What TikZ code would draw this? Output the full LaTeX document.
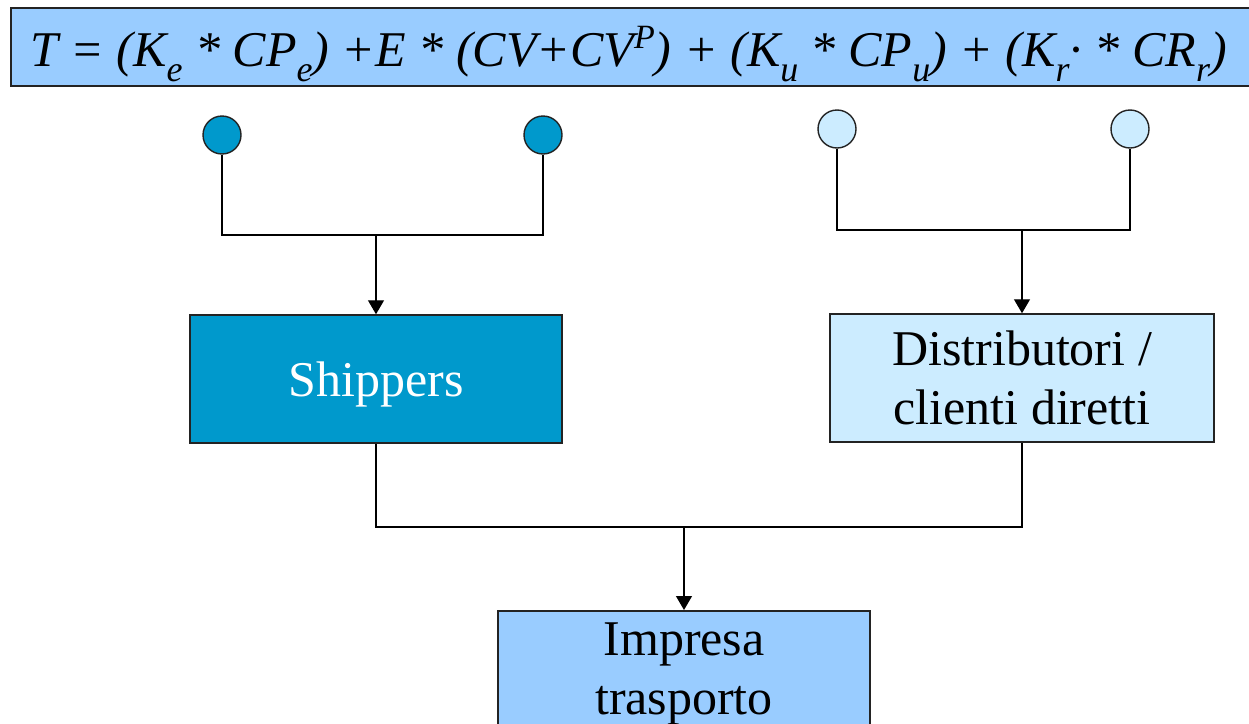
\documentclass[tikz,border=0pt]{standalone}
\usepackage{fontspec}
\setmainfont{Liberation Serif}
\usepackage{xcolor}
\usetikzlibrary{arrows.meta, math}
\definecolor{qdark}{RGB}{0,153,204}
\definecolor{qpale}{RGB}{204,236,255}
\definecolor{qsky}{RGB}{153,204,255}
\definecolor{qline}{RGB}{35,35,35}
\newcommand{\lowi}[1]{\raisebox{-15pt}{\fontsize{36}{36}\selectfont #1}}
\newcommand{\highi}[1]{\raisebox{18pt}{\fontsize{34}{34}\selectfont #1}}

\begin{document}
\begin{tikzpicture}[x=1pt, y=-1pt,
  box/.style={draw=qline, line width=1.5pt, minimum width=#1, minimum height=128pt,
    inner sep=0pt, text depth=0pt, align=center, font=\fontsize{50}{59}\selectfont},
  dot/.style={circle, draw=qline, line width=1.4pt, minimum size=38pt, inner sep=0pt},
  wire/.style={draw=black, line width=1.3pt},
  arr/.style={wire, -{Triangle[length=14pt, width=16pt]}}]

\tikzmath{
\W = 1249;
\H = 723;
\yl = 235; % left junction
\yr = 230; % right junction
\yb = 527; % bottom junction
}

\useasboundingbox (0,0) rectangle (\W,\H);

% formula band
\draw[fill=qsky, draw=qline, line width=2pt] (11,8) rectangle (1270,86);
\node (formula) [anchor=base west, inner sep=0pt, font=\fontsize{50}{50}\selectfont\itshape] at (30,66)
  {T = (K\lowi{e} * CP\lowi{e}) +E * (CV+CV\highi{P}) + (K\lowi{u} * CP\lowi{u}) + (K\lowi{r}· * CR\lowi{r})};

% the four weights
\foreach \n/\x/\y/\c in {e1/222/135/qdark, e2/543/135/qdark, u1/837/129/qpale, u2/1130/129/qpale}
  \node (c\n) [dot, fill=\c] at (\x,\y) {};

\node (shippers) [box=372pt, fill=qdark, text=white] at (376,379) {Shippers};
\node (distrib) [box=384pt, fill=qpale] at (1022,378) {Distributori /\\clienti diretti};
\node (impresa) [box=372pt, fill=qsky, anchor=north, minimum height=0pt, inner ysep=12pt,
  text depth=140pt] at (684,610) {Impresa\\trasporto};

\coordinate (jl) at (376,\yl);
\coordinate (jr) at (1022,\yr);
\coordinate (jb) at (684,\yb);

\draw[wire] (ce1) |- (jl) -| (ce2);
\draw[wire] (cu1) |- (jr) -| (cu2);
\draw[arr] (jl) -- (shippers);
\draw[arr] (jr) -- (distrib);
\draw[wire] (shippers) |- (jb) -| (distrib);
\draw[arr] (jb) -- (impresa);

\end{tikzpicture}
\end{document}
